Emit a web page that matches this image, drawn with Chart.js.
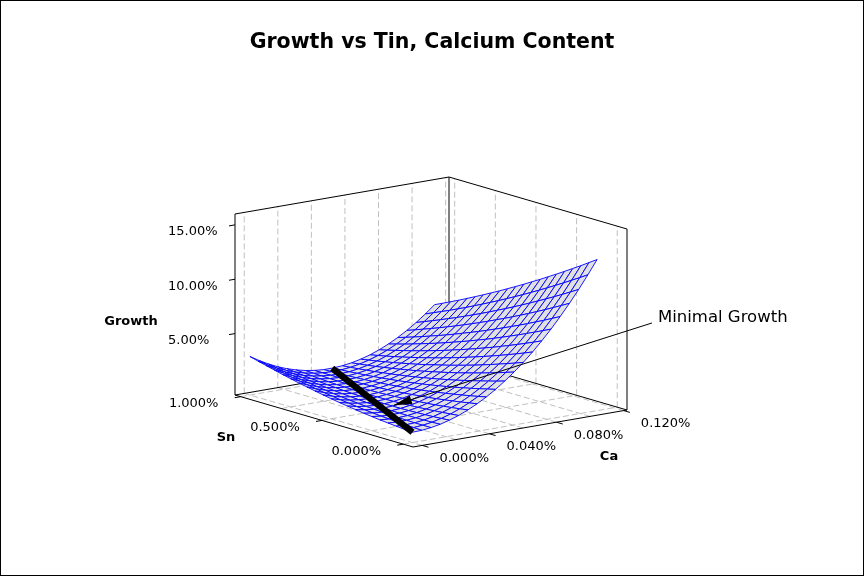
<!DOCTYPE html>
<html>
<head>
<meta charset="utf-8">
<title>Growth vs Tin, Calcium Content</title>
<script src="https://cdn.jsdelivr.net/npm/chart.js@4.4.1/dist/chart.umd.min.js"></script>
<style>
  html, body { margin: 0; padding: 0; background: #fff; }
  #wrap { position: relative; width: 864px; height: 576px; }
  #frame { position: absolute; left: 0; top: 0; width: 864px; height: 576px; box-sizing: border-box; border: 1px solid #000; pointer-events: none; }
</style>
</head>
<body>
<div id="wrap">
  <canvas id="surfaceChart" width="864" height="576"></canvas>
  <div id="frame"></div>
</div>
<script>
// ---- data (percent) ----
const snValues = [0, 0.05, 0.1, 0.15, 0.2, 0.25, 0.3, 0.35, 0.4, 0.45, 0.5,
                  0.55, 0.6, 0.65, 0.7, 0.75, 0.8, 0.85, 0.9, 0.95, 1.0];
const caValues = [0, 0.0055, 0.011, 0.0165, 0.022, 0.0275, 0.033, 0.0385, 0.044, 0.0495, 0.055,
                  0.0605, 0.066, 0.0715, 0.077, 0.0825, 0.088, 0.0935, 0.099, 0.1045, 0.11];
// growthRows[i][j] -> Sn = snValues[i], Ca = caValues[j]
const growthRows = [
  [0.30, 0.33, 0.43, 0.59, 0.82, 1.11, 1.47, 1.89, 2.37, 2.92, 3.54, 4.22, 4.96, 5.77, 6.65, 7.58, 8.59, 9.66, 10.79, 11.99, 13.25],
  [0.35, 0.36, 0.43, 0.56, 0.76, 1.02, 1.35, 1.75, 2.20, 2.73, 3.31, 3.97, 4.68, 5.46, 6.31, 7.22, 8.20, 9.24, 10.34, 11.51, 12.75],
  [0.42, 0.39, 0.43, 0.54, 0.71, 0.95, 1.25, 1.61, 2.04, 2.54, 3.10, 3.72, 4.41, 5.16, 5.98, 6.87, 7.81, 8.83, 9.90, 11.05, 12.25],
  [0.49, 0.44, 0.45, 0.53, 0.67, 0.88, 1.15, 1.49, 1.89, 2.36, 2.89, 3.49, 4.15, 4.87, 5.66, 6.52, 7.44, 8.42, 9.47, 10.59, 11.77],
  [0.56, 0.49, 0.47, 0.52, 0.64, 0.82, 1.06, 1.37, 1.75, 2.19, 2.69, 3.26, 3.89, 4.59, 5.35, 6.18, 7.07, 8.03, 9.05, 10.14, 11.29],
  [0.65, 0.54, 0.50, 0.52, 0.61, 0.76, 0.98, 1.26, 1.61, 2.02, 2.50, 3.04, 3.64, 4.31, 5.05, 5.85, 6.71, 7.64, 8.64, 9.70, 10.82],
  [0.74, 0.61, 0.54, 0.53, 0.59, 0.72, 0.91, 1.16, 1.48, 1.87, 2.31, 2.83, 3.40, 4.05, 4.75, 5.53, 6.36, 7.26, 8.23, 9.26, 10.36],
  [0.85, 0.68, 0.59, 0.55, 0.59, 0.68, 0.84, 1.07, 1.36, 1.72, 2.14, 2.62, 3.17, 3.79, 4.47, 5.21, 6.02, 6.89, 7.83, 8.84, 9.90],
  [0.96, 0.77, 0.64, 0.58, 0.58, 0.65, 0.79, 0.99, 1.25, 1.58, 1.97, 2.43, 2.95, 3.54, 4.19, 4.90, 5.69, 6.53, 7.44, 8.42, 9.46],
  [1.07, 0.86, 0.70, 0.61, 0.59, 0.63, 0.74, 0.91, 1.14, 1.44, 1.81, 2.24, 2.73, 3.29, 3.92, 4.61, 5.36, 6.18, 7.06, 8.01, 9.02],
  [1.20, 0.95, 0.77, 0.66, 0.61, 0.62, 0.70, 0.84, 1.05, 1.32, 1.66, 2.06, 2.53, 3.06, 3.65, 4.31, 5.04, 5.83, 6.69, 7.61, 8.59],
  [1.33, 1.06, 0.85, 0.71, 0.63, 0.61, 0.66, 0.78, 0.96, 1.20, 1.51, 1.89, 2.33, 2.83, 3.40, 4.03, 4.73, 5.49, 6.32, 7.21, 8.17],
  [1.48, 1.17, 0.94, 0.77, 0.66, 0.62, 0.64, 0.73, 0.88, 1.10, 1.38, 1.72, 2.13, 2.61, 3.15, 3.76, 4.43, 5.16, 5.96, 6.83, 7.75],
  [1.63, 1.30, 1.03, 0.83, 0.70, 0.63, 0.62, 0.68, 0.81, 1.00, 1.25, 1.57, 1.95, 2.40, 2.91, 3.49, 4.13, 4.84, 5.61, 6.45, 7.35],
  [1.78, 1.43, 1.14, 0.91, 0.75, 0.65, 0.61, 0.65, 0.74, 0.90, 1.13, 1.42, 1.78, 2.20, 2.68, 3.23, 3.84, 4.52, 5.27, 6.08, 6.95],
  [1.95, 1.57, 1.25, 0.99, 0.80, 0.67, 0.61, 0.62, 0.69, 0.82, 1.02, 1.28, 1.61, 2.00, 2.46, 2.98, 3.57, 4.22, 4.93, 5.71, 6.56],
  [2.12, 1.71, 1.36, 1.08, 0.86, 0.71, 0.62, 0.60, 0.64, 0.74, 0.91, 1.15, 1.45, 1.81, 2.24, 2.74, 3.30, 3.92, 4.61, 5.36, 6.18],
  [2.31, 1.87, 1.49, 1.18, 0.93, 0.75, 0.64, 0.58, 0.60, 0.68, 0.82, 1.02, 1.30, 1.63, 2.04, 2.50, 3.03, 3.63, 4.29, 5.01, 5.80],
  [2.50, 2.03, 1.62, 1.29, 1.01, 0.80, 0.66, 0.58, 0.56, 0.61, 0.73, 0.91, 1.15, 1.46, 1.84, 2.27, 2.78, 3.35, 3.98, 4.68, 5.44],
  [2.69, 2.20, 1.77, 1.40, 1.10, 0.86, 0.69, 0.58, 0.54, 0.56, 0.65, 0.80, 1.02, 1.30, 1.64, 2.06, 2.53, 3.07, 3.68, 4.35, 5.08],
  [2.90, 2.38, 1.92, 1.52, 1.19, 0.93, 0.73, 0.59, 0.52, 0.52, 0.58, 0.70, 0.89, 1.14, 1.46, 1.84, 2.29, 2.80, 3.38, 4.02, 4.73]
];

// minimal growth line (Sn, Ca, Growth at both ends)
const minLineSn = [0, 1.0];
const minLineCa = [0, 0.049];
const minLineGrowth = [0.3, 0.51];

// axes
const snAxisRange = [-0.06, 1.035];
const caAxisRange = [-0.0055, 0.122];
const growthAxisRange = [-0.65, 16];
const snGrid = [0, 0.25, 0.5, 0.75, 1.0];
const caGrid = [0, 0.02, 0.04, 0.06, 0.08, 0.1, 0.12];
const snTicks = [0, 0.5, 1.0];
const snTickLabels = ['0.000%', '0.500%', '1.000%'];
const caTicks = [0, 0.04, 0.08, 0.12];
const caTickLabels = ['0.000%', '0.040%', '0.080%', '0.120%'];
const growthTicks = [5, 10, 15];
const growthTickLabels = ['5.00%', '10.00%', '15.00%'];

// annotation arrow: from label point to the surface
const noteText = 'Minimal Growth';
const noteFrom = [0, 0.1427, 6.54];
const noteTo = [0.3, 0.018, 1.0];

// ---- view (pixels of the floor corner and the three box edges) ----
const VIEW = { ox: 413, oy: 447, snX: -178, snY: -52, caX: 214, caY: -37, zY: -181 };
const TITLE_PAD_TOP = 30, TITLE_SIZE = 20.5, TITLE_PAD_BOTTOM = 10;
const AREA_TOP = TITLE_PAD_TOP + TITLE_SIZE * 1.2 + TITLE_PAD_BOTTOM;

function project(sn, ca, g) {
    const a = (sn - snAxisRange[0]) / (snAxisRange[1] - snAxisRange[0]);
    const b = (ca - caAxisRange[0]) / (caAxisRange[1] - caAxisRange[0]);
    const c = (g - growthAxisRange[0]) / (growthAxisRange[1] - growthAxisRange[0]);
    return {
        x: VIEW.ox + a * VIEW.snX + b * VIEW.caX,
        y: VIEW.oy + a * VIEW.snY + b * VIEW.caY + c * VIEW.zY,
        depth: 52 * a + 37 * b
    };
}

function path(points, color, width, dash, order) {
    return {
        data: points.map(p => { const q = project(p[0], p[1], p[2]); return { x: q.x, y: q.y }; }),
        showLine: true,
        fill: false,
        borderColor: color,
        borderWidth: width,
        borderDash: dash,
        pointRadius: 0,
        pointHoverRadius: 0,
        tension: 0,
        order: order
    };
}

const datasets = [];
const sn0 = snAxisRange[0], sn1 = snAxisRange[1];
const ca0 = caAxisRange[0], ca1 = caAxisRange[1];
const g0 = growthAxisRange[0], g1 = growthAxisRange[1];
const GRID = '#c0c0c0';

// floor grid
snGrid.forEach(s => datasets.push(path([[s, ca0, g0], [s, ca1, g0]], GRID, 1, [6, 3], 300000)));
caGrid.forEach(c => datasets.push(path([[sn0, c, g0], [sn1, c, g0]], GRID, 1, [6, 3], 300000)));
// back walls grid
caGrid.forEach(c => datasets.push(path([[sn1, c, g0], [sn1, c, g1]], GRID, 1, [6, 3], 250000)));
snGrid.forEach(s => datasets.push(path([[s, ca1, g0], [s, ca1, g1]], GRID, 1, [6, 3], 250000)));

// box edges
const boxEdges = [
    [[sn0, ca0, g0], [sn1, ca0, g0]],
    [[sn0, ca0, g0], [sn0, ca1, g0]],
    [[sn1, ca0, g0], [sn1, ca1, g0]],
    [[sn0, ca1, g0], [sn1, ca1, g0]],
    [[sn1, ca0, g0], [sn1, ca0, g1]],
    [[sn1, ca1, g0], [sn1, ca1, g1]],
    [[sn0, ca1, g0], [sn0, ca1, g1]],
    [[sn1, ca0, g1], [sn1, ca1, g1]],
    [[sn1, ca1, g1], [sn0, ca1, g1]]
];
boxEdges.forEach(e => datasets.push(path(e, '#000', 1, [], 200000)));

// tick marks
const caTickLen = 0.028 * (ca1 - ca0), snTickLen = 0.035 * (sn1 - sn0);
growthTicks.forEach(g => datasets.push(path([[sn1, ca0, g], [sn1, ca0 - caTickLen, g]], '#000', 1, [], 200000)));
snTicks.forEach(s => datasets.push(path([[s, ca0, g0], [s, ca0 - caTickLen, g0]], '#000', 1, [], 200000)));
caTicks.forEach(c => datasets.push(path([[sn0, c, g0], [sn0 - snTickLen, c, g0]], '#000', 1, [], 200000)));

// surface mesh, one filled cell per dataset, far cells drawn first
for (let i = 0; i < snValues.length - 1; i++) {
    for (let j = 0; j < caValues.length - 1; j++) {
        const cell = [
            [snValues[i], caValues[j], growthRows[i][j]],
            [snValues[i + 1], caValues[j], growthRows[i + 1][j]],
            [snValues[i + 1], caValues[j + 1], growthRows[i + 1][j + 1]],
            [snValues[i], caValues[j + 1], growthRows[i][j + 1]],
            [snValues[i], caValues[j], growthRows[i][j]]
        ];
        const mid = project((snValues[i] + snValues[i + 1]) / 2, (caValues[j] + caValues[j + 1]) / 2, 0);
        const ds = path(cell, '#0000ff', 0.9, [], 1000 + Math.round(mid.depth * 100));
        ds.fill = 'shape';
        ds.backgroundColor = '#e1e1e1';
        datasets.push(ds);
    }
}

// minimal growth line
const minLine = minLineSn.map((s, k) => [s, minLineCa[k], minLineGrowth[k]]);
datasets.push(path(minLine, '#000', 6.5, [], 2));

// annotation leader
datasets.push(path([noteFrom, noteTo], '#000', 1, [], 1));

const textPlugin = {
    id: 'boxText',
    afterDatasetsDraw(chart) {
        const ctx = chart.ctx;
        const sx = chart.scales.x, sy = chart.scales.y;
        const at = (p) => {
            const q = project(p[0], p[1], p[2]);
            return { x: sx.getPixelForValue(q.x), y: sy.getPixelForValue(q.y) };
        };
        ctx.save();
        ctx.fillStyle = '#000';
        ctx.textBaseline = 'middle';

        ctx.font = '13px "DejaVu Sans"';
        ctx.textAlign = 'left';
        growthTicks.forEach((g, k) => {
            const p = at([sn1, ca0, g]);
            ctx.fillText(growthTickLabels[k], p.x - 67, p.y + 7);
        });
        ctx.textAlign = 'center';
        snTicks.forEach((s, k) => {
            const p = at([s, ca0, g0]);
            ctx.fillText(snTickLabels[k], p.x - 47, p.y + 7);
        });
        caTicks.forEach((c, k) => {
            const p = at([sn0, c, g0]);
            ctx.fillText(caTickLabels[k], p.x + 42, p.y + 13);
        });

        ctx.font = 'bold 13px "DejaVu Sans"';
        let p = at([sn1, ca0, (g0 + g1) / 2]);
        ctx.fillText('Growth', p.x - 104, p.y + 17);
        p = at([(sn0 + sn1) / 2, ca0, g0]);
        ctx.fillText('Sn', p.x - 98, p.y + 17);
        p = at([sn0, (ca0 + ca1) / 2, g0]);
        ctx.fillText('Ca', p.x + 89, p.y + 28);

        // annotation text and arrow head
        const from = at(noteFrom), to = at(noteTo);
        ctx.font = '16.5px "DejaVu Sans"';
        ctx.textAlign = 'left';
        ctx.fillText(noteText, from.x + 6, from.y - 5);
        const ang = Math.atan2(to.y - from.y, to.x - from.x);
        const len = 18, half = 4.5;
        ctx.beginPath();
        ctx.moveTo(to.x, to.y);
        ctx.lineTo(to.x - len * Math.cos(ang) + half * Math.sin(ang), to.y - len * Math.sin(ang) - half * Math.cos(ang));
        ctx.lineTo(to.x - len * Math.cos(ang) - half * Math.sin(ang), to.y - len * Math.sin(ang) + half * Math.cos(ang));
        ctx.closePath();
        ctx.fill();
        ctx.restore();
    }
};

Chart.defaults.font.family = '"DejaVu Sans", sans-serif';

new Chart(document.getElementById('surfaceChart'), {
    type: 'scatter',
    data: { datasets: datasets },
    options: {
        responsive: false,
        animation: false,
        events: [],
        layout: { padding: 0 },
        scales: {
            x: { type: 'linear', display: false, min: 0, max: 864 },
            y: { type: 'linear', display: false, reverse: true, min: AREA_TOP, max: 576 }
        },
        plugins: {
            legend: { display: false },
            tooltip: { enabled: false },
            title: {
                display: true,
                text: 'Growth vs Tin, Calcium Content',
                color: '#000',
                font: { size: TITLE_SIZE, weight: 'bold', lineHeight: 1.2 },
                padding: { top: TITLE_PAD_TOP, bottom: TITLE_PAD_BOTTOM }
            }
        }
    },
    plugins: [textPlugin]
});
</script>
</body>
</html>
